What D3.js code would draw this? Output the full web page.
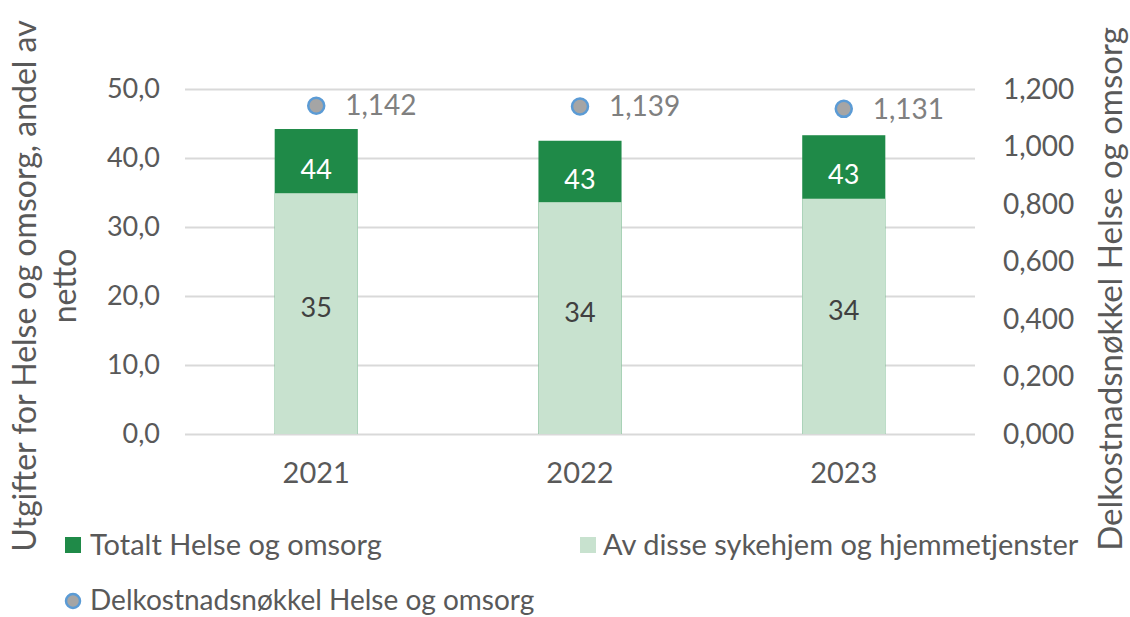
<!DOCTYPE html>
<html>
<head>
<meta charset="utf-8">
<script src="https://cdn.jsdelivr.net/npm/d3@7"></script>
<style>
  body { margin: 0; background: #fff; }
  text { font-family: Lato, "Open Sans", sans-serif; fill: #595959; }
</style>
</head>
<body>
<svg id="chart" width="1130" height="617"></svg>
<script>
// Chart data
const years = ['2021', '2022', '2023'];
const totalValues = [44.2, 42.5, 43.3];
const subValues = [34.9, 33.6, 34.1];
const keyValues = [1.142, 1.139, 1.131];
const leftTicks = [0, 10, 20, 30, 40, 50];
const rightTicks = [0, 0.2, 0.4, 0.6, 0.8, 1.0, 1.2];

const darkGreen = '#1f8a48';
const lightGreen = '#c8e2cf';

const svg = d3.select('#chart');

const plotLeft = 185, plotRight = 975, plotTop = 89, plotBottom = 434;

const x = d3.scaleBand().domain(years).range([plotLeft, plotRight]).paddingInner(0.685).paddingOuter(0.34);
const yLeft = d3.scaleLinear().domain([0, 50]).range([plotBottom, plotTop]);
const yRight = d3.scaleLinear().domain([0, 1.2]).range([plotBottom, plotTop]);

const commaFmt = (d, n) => d3.format('.' + n + 'f')(d).replace('.', ',');
const mid = d => x(d) + x.bandwidth() / 2;

// Gridlines
svg.append('g')
    .selectAll('line')
    .data(leftTicks)
    .join('line')
    .attr('x1', plotLeft).attr('x2', plotRight)
    .attr('y1', d => yLeft(d) + 0.5).attr('y2', d => yLeft(d) + 0.5)
    .attr('stroke', '#d9d9d9').attr('stroke-width', 2);

// Left axis labels
svg.append('g')
    .selectAll('text')
    .data(leftTicks)
    .join('text')
    .attr('x', 160).attr('y', d => yLeft(d))
    .attr('dy', '0.35em').attr('text-anchor', 'end')
    .attr('font-size', 27)
    .text(d => commaFmt(d, 1));

// Right axis labels
svg.append('g')
    .selectAll('text')
    .data(rightTicks)
    .join('text')
    .attr('x', 1003).attr('y', d => yRight(d))
    .attr('dy', '0.35em').attr('text-anchor', 'start')
    .attr('font-size', 28)
    .text(d => commaFmt(d, 3));

// X labels
svg.append('g')
    .selectAll('text')
    .data(years)
    .join('text')
    .attr('x', mid).attr('y', 473)
    .attr('dy', '0.35em').attr('text-anchor', 'middle')
    .attr('font-size', 29)
    .text(d => d);

// Total bars
svg.append('g')
    .selectAll('rect')
    .data(years)
    .join('rect')
    .attr('x', d => x(d)).attr('width', x.bandwidth())
    .attr('y', (d, i) => yLeft(totalValues[i]))
    .attr('height', (d, i) => yLeft(0) - yLeft(totalValues[i]))
    .attr('fill', darkGreen);

// Sub bars
svg.append('g')
    .selectAll('rect')
    .data(years)
    .join('rect')
    .attr('x', d => x(d)).attr('width', x.bandwidth())
    .attr('y', (d, i) => yLeft(subValues[i]))
    .attr('height', (d, i) => yLeft(0) - yLeft(subValues[i]))
    .attr('fill', lightGreen);

// Bar labels
svg.append('g')
    .selectAll('text')
    .data(years)
    .join('text')
    .attr('x', mid)
    .attr('y', (d, i) => (yLeft(totalValues[i]) + yLeft(subValues[i])) / 2 + 8)
    .attr('dy', '0.35em').attr('text-anchor', 'middle')
    .attr('font-size', 27)
    .style('fill', '#fff')
    .text((d, i) => Math.round(totalValues[i]));

svg.append('g')
    .selectAll('text')
    .data(years)
    .join('text')
    .attr('x', mid)
    .attr('y', (d, i) => yLeft(subValues[i] / 2) - 6)
    .attr('dy', '0.35em').attr('text-anchor', 'middle')
    .attr('font-size', 27)
    .style('fill', '#404040')
    .text((d, i) => Math.round(subValues[i]));

// Key markers
svg.append('g')
    .selectAll('circle')
    .data(years)
    .join('circle')
    .attr('cx', mid)
    .attr('cy', (d, i) => yRight(keyValues[i]))
    .attr('r', 8)
    .attr('fill', '#a5a5a5').attr('stroke', '#5b9bd5').attr('stroke-width', 2.5);

svg.append('g')
    .selectAll('text')
    .data(years)
    .join('text')
    .attr('x', d => mid(d) + 29)
    .attr('y', (d, i) => yRight(keyValues[i]))
    .attr('dy', '0.35em').attr('text-anchor', 'start')
    .attr('font-size', 28)
    .style('fill', '#808080')
    .text((d, i) => commaFmt(keyValues[i], 3));

// Axis titles
svg.append('text')
    .attr('transform', 'translate(36,286) rotate(-90)')
    .attr('text-anchor', 'middle')
    .attr('font-size', 32)
    .text('Utgifter for Helse og omsorg, andel av');
svg.append('text')
    .attr('transform', 'translate(76,286) rotate(-90)')
    .attr('text-anchor', 'middle')
    .attr('font-size', 32)
    .text('netto');
svg.append('text')
    .attr('transform', 'translate(1122,289) rotate(-90)')
    .attr('text-anchor', 'middle')
    .attr('font-size', 33)
    .text('Delkostnadsnøkkel Helse og omsorg');

// Legend
const legend = svg.append('g');
legend.append('rect').attr('x', 65).attr('y', 537).attr('width', 16).attr('height', 16).attr('fill', darkGreen);
legend.append('text').attr('x', 90).attr('y', 545).attr('dy', '0.35em').attr('font-size', 29).text('Totalt Helse og omsorg');
legend.append('rect').attr('x', 580).attr('y', 537).attr('width', 16).attr('height', 16).attr('fill', lightGreen);
legend.append('text').attr('x', 603).attr('y', 545).attr('dy', '0.35em').attr('font-size', 29).text('Av disse sykehjem og hjemmetjenster');
legend.append('circle').attr('cx', 73).attr('cy', 601).attr('r', 7)
    .attr('fill', '#a5a5a5').attr('stroke', '#5b9bd5').attr('stroke-width', 2.5);
legend.append('text').attr('x', 90).attr('y', 600).attr('dy', '0.35em').attr('font-size', 28).text('Delkostnadsnøkkel Helse og omsorg');
</script>
</body>
</html>
